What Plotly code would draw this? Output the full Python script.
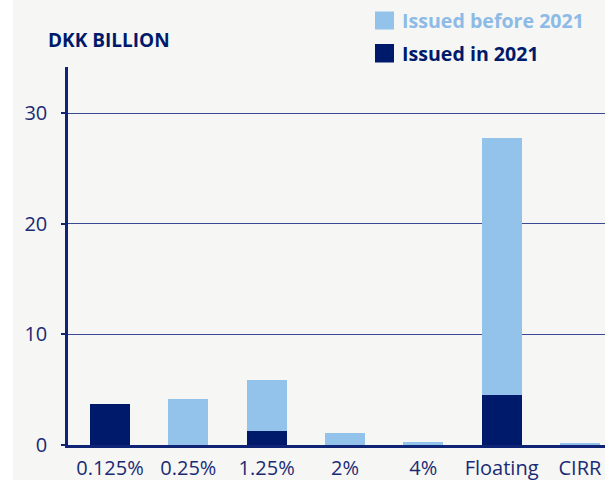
import plotly.graph_objects as go

# Coupon categories and outstanding amounts (DKK billion)
categories = ["0.125%", "0.25%", "1.25%", "2%", "4%", "Floating", "CIRR"]
issued_2021 = [3.7, 0.0, 1.27, 0.0, 0.0, 4.5, 0.0]
issued_before_2021 = [0.0, 4.2, 4.6, 1.1, 0.27, 23.3, 0.12]
y_ticks = [0, 10, 20, 30]

NAVY = "#001a6b"
LIGHT = "#93c2eb"
AXIS = "#0f2474"
BG = "#f6f6f4"
FONT = "Open Sans"

fig = go.Figure()
fig.add_trace(go.Bar(x=categories, y=issued_2021, name="Issued in 2021",
                     marker=dict(color=NAVY, line=dict(width=0)), width=0.51))
fig.add_trace(go.Bar(x=categories, y=issued_before_2021, name="Issued before 2021",
                     marker=dict(color=LIGHT, line=dict(width=0)), width=0.51))

W, H = 605, 480
ml, mr, mt, mb = 68, 0, 67, 35
pw, ph = W - ml - mr, H - mt - mb

def px_x(p):
    return (p - ml) / pw

def px_y(p):
    return (H - mb - p) / ph

shapes = [
    # grey panel behind the chart
    dict(type="rect", xref="paper", yref="paper", layer="below",
         x0=px_x(13), x1=px_x(W + 5), y0=px_y(H + 5), y1=px_y(-5),
         fillcolor=BG, line=dict(width=0)),
    # legend swatches
    dict(type="rect", xref="paper", yref="paper",
         x0=px_x(375), x1=px_x(394), y0=px_y(29.5), y1=px_y(11.5),
         fillcolor=LIGHT, line=dict(width=0)),
    dict(type="rect", xref="paper", yref="paper",
         x0=px_x(375), x1=px_x(394), y0=px_y(62.5), y1=px_y(44),
         fillcolor=NAVY, line=dict(width=0)),
]

annotations = [
    dict(text="<b>DKK BILLION</b>", xref="paper", yref="paper",
         x=px_x(46), y=px_y(40), xanchor="left", yanchor="middle",
         showarrow=False, font=dict(family=FONT, size=19, color=NAVY)),
    dict(text="<b>Issued before 2021</b>", xref="paper", yref="paper",
         x=px_x(400), y=px_y(20.5), xanchor="left", yanchor="middle",
         showarrow=False, font=dict(family=FONT, size=19.6, color="#8dbbe6")),
    dict(text="<b>Issued in 2021</b>", xref="paper", yref="paper",
         x=px_x(400), y=px_y(53), xanchor="left", yanchor="middle",
         showarrow=False, font=dict(family=FONT, size=19.6, color=NAVY)),
]

fig.update_layout(
    width=W, height=H,
    margin=dict(l=ml, r=mr, t=mt, b=mb, pad=0),
    barmode="stack",
    showlegend=False,
    paper_bgcolor="white",
    plot_bgcolor="rgba(0,0,0,0)",
    shapes=shapes,
    annotations=annotations,
    xaxis=dict(
        range=[-0.536, 6.32], showgrid=False, zeroline=False,
        showline=True, linecolor=AXIS, linewidth=2.5,
        ticks="", tickfont=dict(family=FONT, size=20, color="#1a2b74"),
        ticklabelstandoff=3, fixedrange=True,
    ),
    yaxis=dict(
        range=[0, 34.2], tickvals=y_ticks, showgrid=True,
        gridcolor="#3a4a96", gridwidth=1, zeroline=False,
        showline=True, linecolor=AXIS, linewidth=2.5,
        ticks="outside", ticklen=4, tickcolor=AXIS, tickwidth=2,
        tickfont=dict(family=FONT, size=20, color="#1a2b74"),
        ticklabelstandoff=10, fixedrange=True,
    ),
)

fig.write_html("out.html")
